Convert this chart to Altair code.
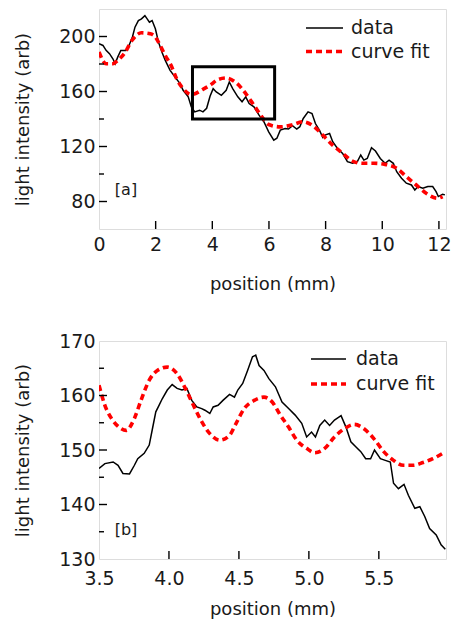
import altair as alt
import pandas as pd

# ---------------- panel [a] ----------------
a_data_x = [0.00, 0.14, 0.25, 0.37, 0.49, 0.57, 0.66, 0.77, 0.95, 1.06, 1.18, 1.27, 1.39, 1.50,
            1.62, 1.70, 1.78, 1.875, 1.99, 2.10, 2.22, 2.34, 2.51, 2.68, 2.86, 2.97, 3.15, 3.26,
            3.38, 3.55, 3.67, 3.80, 3.92, 4.03, 4.14, 4.32, 4.49, 4.60, 4.72, 4.90, 5.05, 5.18,
            5.30, 5.47, 5.65, 5.82, 5.99, 6.17, 6.28, 6.40, 6.57, 6.69, 6.83, 6.98, 7.09, 7.21,
            7.38, 7.52, 7.64, 7.79, 7.90, 8.00, 8.14, 8.25, 8.42, 8.60, 8.77, 8.95, 9.12, 9.24,
            9.35, 9.47, 9.62, 9.76, 9.93, 10.10, 10.24, 10.39, 10.51, 10.68, 10.85, 11.03, 11.15,
            11.26, 11.43, 11.61, 11.78, 11.90, 11.98, 12.13, 12.21]
a_data_y = [194.7, 193.5, 189.9, 187.5, 183.8, 180.2, 185.0, 189.9, 189.9, 193.5, 199.6, 206.8,
            211.6, 212.8, 215.2, 212.8, 210.4, 211.6, 205.6, 195.9, 188.7, 182.6, 175.4, 170.6,
            165.7, 160.9, 156.1, 148.8, 145.2, 146.4, 145.2, 147.8, 156.5, 162.1, 159.7, 157.2,
            160.9, 166.9, 162.1, 156.1, 152.5, 156.1, 151.2, 148.8, 142.8, 138.0, 130.7, 124.6,
            126.0, 131.9, 133.1, 132.7, 135.1, 132.7, 134.4, 140.4, 145.2, 144.0, 136.7, 131.5,
            126.5, 128.5, 129.5, 123.5, 118.6, 115.0, 109.0, 107.8, 109.0, 113.8, 110.1, 111.3,
            119.1, 116.7, 111.3, 107.8, 110.1, 107.8, 101.7, 96.9, 93.3, 92.0, 88.4, 90.9, 89.6,
            90.9, 90.9, 87.2, 83.6, 85.3, 84.8]
a_fit_x = [0.00, 0.25, 0.49, 0.66, 0.93, 1.16, 1.50, 1.81, 1.99, 2.16, 2.34, 2.57, 2.74, 2.97,
           3.26, 3.67, 4.00, 4.14, 4.49, 4.84, 5.18, 5.47, 5.71, 5.99, 6.40, 6.80, 7.21, 7.56,
           7.90, 8.25, 8.60, 8.95, 9.30, 9.70, 10.10, 10.51, 10.85, 11.20, 11.55, 11.95, 12.13]
a_fit_y = [188.7, 180.2, 180.2, 182.6, 188.7, 197.1, 202.7, 202.0, 199.6, 193.5, 186.2, 177.8,
           169.3, 162.1, 157.8, 161.6, 165.7, 168.1, 169.8, 166.4, 158.5, 150.0, 142.8, 136.0,
           134.3, 135.6, 138.0, 135.0, 128.3, 121.0, 115.0, 109.4, 107.8, 107.8, 107.0, 104.1,
           98.1, 92.0, 86.0, 82.4, 83.6]
# zoom box drawn on panel [a]
box_x = [3.3]
box_x2 = [6.2]
box_y = [140]
box_y2 = [178]

# ---------------- panel [b] ----------------
b_data_x = [3.500, 3.542, 3.601, 3.636, 3.671, 3.718, 3.753, 3.777, 3.823, 3.859, 3.882, 3.906,
            3.929, 3.952, 3.988, 4.023, 4.058, 4.093, 4.128, 4.163, 4.199, 4.234, 4.257, 4.292,
            4.316, 4.351, 4.386, 4.433, 4.468, 4.492, 4.527, 4.562, 4.597, 4.620, 4.644, 4.679,
            4.714, 4.761, 4.808, 4.855, 4.902, 4.949, 4.984, 5.019, 5.047, 5.078, 5.113, 5.148,
            5.183, 5.230, 5.265, 5.300, 5.335, 5.371, 5.406, 5.441, 5.469, 5.511, 5.546, 5.582,
            5.605, 5.640, 5.680, 5.711, 5.757, 5.793, 5.828, 5.863, 5.910, 5.945, 5.975]
b_data_y = [146.6, 147.5, 147.8, 147.2, 145.7, 145.6, 147.2, 148.4, 149.4, 150.9, 153.9, 157.0,
            158.2, 159.4, 161.0, 162.0, 161.3, 161.0, 161.3, 159.1, 157.9, 157.6, 157.3, 156.7,
            157.9, 158.2, 159.1, 160.2, 159.7, 161.0, 162.2, 164.6, 167.1, 167.4, 165.5, 164.6,
            163.1, 161.6, 158.8, 157.6, 156.4, 154.9, 152.4, 153.3, 152.4, 154.5, 155.5, 154.5,
            155.5, 156.3, 154.2, 151.5, 150.6, 149.7, 148.4, 148.4, 150.0, 148.4, 148.1, 147.8,
            143.9, 142.9, 143.7, 141.7, 139.3, 139.6, 137.8, 135.6, 134.4, 132.6, 131.8]
b_fit_x = [3.500, 3.542, 3.589, 3.648, 3.695, 3.753, 3.800, 3.859, 3.917, 3.988, 4.058, 4.117,
           4.175, 4.234, 4.292, 4.363, 4.433, 4.480, 4.538, 4.609, 4.679, 4.738, 4.796, 4.855,
           4.914, 4.984, 5.042, 5.113, 5.183, 5.253, 5.324, 5.394, 5.464, 5.535, 5.605, 5.675,
           5.746, 5.816, 5.886, 5.957]
b_fit_y = [161.9, 158.2, 155.8, 154.1, 153.6, 155.8, 159.1, 162.8, 164.6, 165.2, 164.0, 161.3,
           158.2, 155.2, 153.0, 151.8, 152.7, 154.9, 157.6, 159.1, 159.7, 158.8, 156.4, 154.2,
           151.8, 150.3, 149.5, 150.3, 152.4, 153.9, 154.7, 153.9, 152.1, 149.7, 148.1, 147.2,
           147.2, 147.7, 148.4, 149.4]

# axis ticks / labels
a_xlabels = [0, 2, 4, 6, 8, 10, 12]
a_ylabels = [80, 120, 160, 200]
a_yminor = [100, 140, 180]
b_xlabels = [3.5, 4.0, 4.5, 5.0, 5.5]
b_ylabels = [130, 140, 150, 160, 170]
b_yminor = [135, 145, 155, 165]

legend_labels = ["data", "curve fit"]

FONT = "DejaVu Sans"
TXT = "#1a1a1a"
RED = "#ff0000"
W = 347


def panel(dx, dy, fx, fy, xdom, ydom, xlabels, xfmt, ylabels, ymajor, yminor, xmajor,
          tag, tag_xy, leg_xy, H, xlabpad, xtitlepad, box=None):
    xs = alt.Scale(domain=xdom, nice=False, zero=False)
    ys = alt.Scale(domain=ydom, nice=False, zero=False)
    xax = alt.Axis(values=xlabels, format=xfmt, title="position (mm)", ticks=False, tickSize=0,
                   domain=False, grid=False, labelFlush=False, labelPadding=xlabpad,
                   titlePadding=xtitlepad, labelFontSize=19, titleFontSize=18,
                   labelColor=TXT, titleColor=TXT, labelFont=FONT, titleFont=FONT,
                   titleFontWeight="normal", labelOverlap=False)
    yax = alt.Axis(values=ylabels, title="light intensity (arb)", ticks=False, tickSize=0,
                   domain=False, grid=False, labelFlush=False, labelPadding=4,
                   titlePadding=26, labelFontSize=19, titleFontSize=18,
                   labelColor=TXT, titleColor=TXT, labelFont=FONT, titleFont=FONT,
                   titleFontWeight="normal", labelOverlap=False)

    def X(f):
        return alt.X(f, scale=xs, axis=xax)

    def Y(f):
        return alt.Y(f, scale=ys, axis=yax)

    d = pd.DataFrame({"x": dx, "y": dy})
    f = pd.DataFrame({"x": fx, "y": fy})
    line_data = alt.Chart(d).mark_line(color="black", strokeWidth=1.5, clip=True).encode(
        x=X("x:Q"), y=Y("y:Q"))
    line_fit = alt.Chart(f).mark_line(color=RED, strokeWidth=3.6, strokeDash=[6, 4],
                                      interpolate="monotone", clip=True).encode(
        x=X("x:Q"), y=Y("y:Q"))

    layers = [line_data, line_fit]

    ymj = alt.Chart(pd.DataFrame({"y": ymajor})).mark_rule(color="black", strokeWidth=1.4).encode(
        y=Y("y:Q"), x=alt.value(0), x2=alt.value(8))
    ymn = alt.Chart(pd.DataFrame({"y": yminor})).mark_rule(color="black", strokeWidth=1.4).encode(
        y=Y("y:Q"), x=alt.value(0), x2=alt.value(5))
    xmj = alt.Chart(pd.DataFrame({"x": xmajor})).mark_rule(color="black", strokeWidth=1.4).encode(
        x=X("x:Q"), y=alt.value(H), y2=alt.value(H - 8))
    layers += [ymj, ymn, xmj]

    if box is not None:
        bx = alt.Chart(pd.DataFrame({"x": box[0], "x2": box[1], "y": box[2], "y2": box[3]})).mark_rect(
            fillOpacity=0, stroke="black", strokeWidth=3).encode(
            x=X("x:Q"), x2="x2:Q", y=Y("y:Q"), y2="y2:Q")
        layers.append(bx)

    tg = alt.Chart(pd.DataFrame({"t": [tag]})).mark_text(
        font=FONT, fontSize=16, color=TXT, align="center", baseline="middle").encode(
        text="t:N", x=alt.value(tag_xy[0]), y=alt.value(tag_xy[1]))
    layers.append(tg)

    lx0, lx1, ly0, ly1, tx = leg_xy
    leg1 = alt.Chart(pd.DataFrame({"t": [legend_labels[0]]})).mark_rule(
        color="black", strokeWidth=1.5).encode(x=alt.value(lx0), x2=alt.value(lx1), y=alt.value(ly0))
    leg2 = alt.Chart(pd.DataFrame({"t": [legend_labels[1]]})).mark_rule(
        color=RED, strokeWidth=3.6, strokeDash=[6, 4]).encode(
        x=alt.value(lx0), x2=alt.value(lx1), y=alt.value(ly1))
    lt1 = alt.Chart(pd.DataFrame({"t": [legend_labels[0]]})).mark_text(
        font=FONT, fontSize=19, color=TXT, align="left", baseline="middle").encode(
        text="t:N", x=alt.value(tx), y=alt.value(ly0))
    lt2 = alt.Chart(pd.DataFrame({"t": [legend_labels[1]]})).mark_text(
        font=FONT, fontSize=19, color=TXT, align="left", baseline="middle").encode(
        text="t:N", x=alt.value(tx), y=alt.value(ly1))
    layers += [leg1, leg2, lt1, lt2]

    return alt.layer(*layers).properties(width=W, height=H)


top = panel(a_data_x, a_data_y, a_fit_x, a_fit_y, [0, 12.25], [60, 220], a_xlabels, "d",
            a_ylabels, a_ylabels, a_yminor, a_xlabels[1:], "[a]", (27, 181),
            (W - 140, W - 103, 19, 42.5, W - 95), 220, 6, 21,
            box=(box_x, box_x2, box_y, box_y2))
bottom = panel(b_data_x, b_data_y, b_fit_x, b_fit_y, [3.5, 5.98], [130, 170], b_xlabels, ".1f",
               b_ylabels, b_ylabels[1:-1], b_yminor, b_xlabels[1:], "[b]", (27, 189),
               (W - 135, W - 100, 18, 43, W - 90), 218, 10, 12)

chart = alt.vconcat(top, bottom, spacing=112, bounds="flush").properties(
    padding={"left": 6, "top": 0, "right": 0, "bottom": 0}
).configure_view(stroke="black", strokeWidth=1.6).configure(background="white")

chart.save("out.html", embed_options={"renderer": "svg", "actions": False})
